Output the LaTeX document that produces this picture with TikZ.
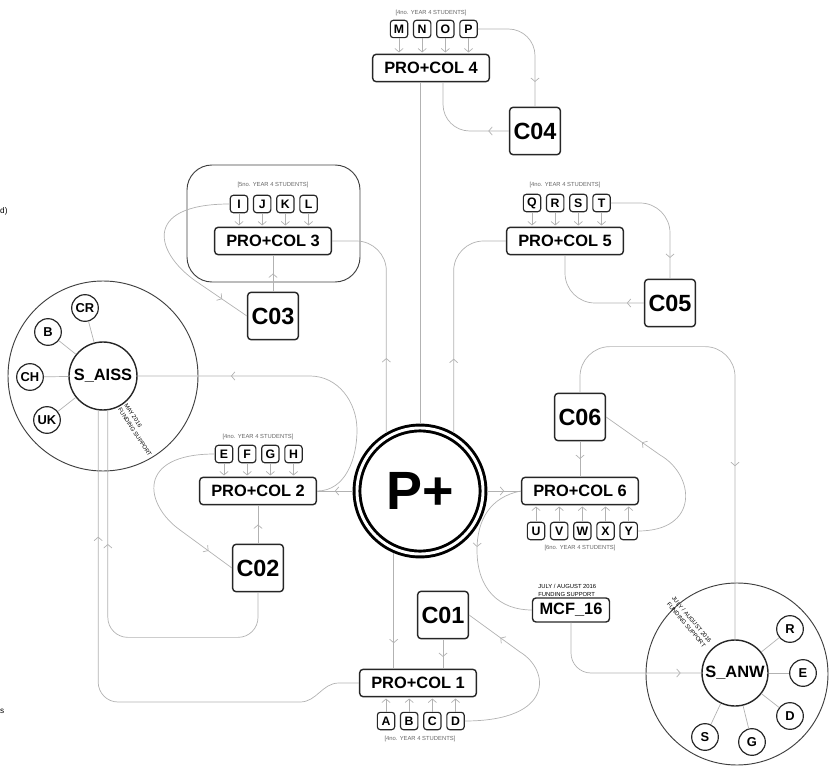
\documentclass[tikz,border=0pt]{standalone}
\usepackage{fontspec}
\setmainfont{Liberation Sans}
\usepackage{tikz}
\usetikzlibrary{arrows.meta, positioning, calc, decorations.markings}

\begin{document}
\begin{tikzpicture}[
    x=0.03cm, y=-0.03cm,
    link/.style={draw=black!30, line width=0.6pt},
    flow/.style={link, postaction={decorate}, decoration={markings, mark=at position #1 with {\arrow{Straight Barb[length=3pt,width=7pt]}}}},
    flow/.default=0.5,
    feed/.style={link, -{Straight Barb[length=3pt,width=7pt]}, shorten >=1pt},
    pcbox/.style={rectangle, rounded corners=3pt, draw=black!85, line width=1.2pt, minimum width=3.5cm, minimum height=0.82cm, font=\fontsize{14}{16}\selectfont\bfseries},
    cbox/.style={rectangle, rounded corners=3pt, draw=black!85, line width=1.2pt, minimum size=1.42cm, font=\fontsize{20}{22}\selectfont\bfseries},
    mcfbox/.style={rectangle, rounded corners=3pt, draw=black!85, line width=1.2pt, minimum width=2.31cm, minimum height=0.72cm, font=\fontsize{14}{16}\selectfont\bfseries},
    letter/.style={rectangle, rounded corners=2.5pt, draw=black!85, line width=1pt, minimum size=0.52cm, inner sep=0pt, font=\fontsize{10.5}{12}\selectfont\bfseries},
    note/.style={inner sep=1pt, text=black!60, font=\fontsize{5}{6}\selectfont},
    tinytext/.style={inner sep=1pt, align=left, font=\fontsize{5}{6.5}\selectfont},
    groupbox/.style={rectangle, rounded corners=0.75cm, draw=black!75, line width=0.8pt, minimum width=5.19cm, minimum height=3.51cm},
    hub/.style={circle, draw=black, line width=2.5pt, double, double distance=2.5pt, minimum size=3.78cm, outer sep=3.7pt, font=\fontsize{46}{50}\selectfont\bfseries},
    site/.style={circle, draw=black!85, line width=1.2pt, minimum size=2.04cm, inner sep=0pt, font=\fontsize{14}{16}\selectfont\bfseries},
    ring/.style={circle, draw=black!75, line width=0.8pt},
    member/.style={circle, draw=black!85, line width=1pt, minimum size=0.8cm, inner sep=0pt, font=\fontsize{11}{12}\selectfont\bfseries}
]
    \useasboundingbox (0,0) rectangle (837,767);

    \node[hub] (plus) at (420,491) {P+};

    \node[pcbox] (pc4) at (431,68) {PRO+COL 4};
    \node[letter] (m) at (399,29) {M};
    \node[letter, right=0.14cm of m] (n) {N};
    \node[letter, right=0.14cm of n] (o) {O};
    \node[letter, right=0.14cm of o] (p) {P};
    \node[note] (lbl4) at (431,13) {[4no. YEAR 4 STUDENTS]};
    \node[cbox] (c04) at (535,131) {C04};

    \node[groupbox] (grp3) at (273.5,223.5) {};
    \node[pcbox] (pc3) at (273,241) {PRO+COL 3};
    \node[letter] (i) at (239,204) {I};
    \node[letter, right=0.14cm of i] (j) {J};
    \node[letter, right=0.14cm of j] (k) {K};
    \node[letter, right=0.14cm of k] (l) {L};
    \node[note] (lbl3) at (273,185) {[5no. YEAR 4 STUDENTS]};
    \node[cbox] (c03) at (273,316) {C03};

    \node[pcbox] (pc5) at (565,241) {PRO+COL 5};
    \node[letter] (q) at (532,203) {Q};
    \node[letter, right=0.14cm of q] (r) {R};
    \node[letter, right=0.14cm of r] (s) {S};
    \node[letter, right=0.14cm of s] (t) {T};
    \node[note] (lbl5) at (565,185) {[4no. YEAR 4 STUDENTS]};
    \node[cbox] (c05) at (670,303) {C05};

    \node[pcbox] (pc2) at (258,491) {PRO+COL 2};
    \node[letter] (e) at (224,454) {E};
    \node[letter, right=0.14cm of e] (f) {F};
    \node[letter, right=0.14cm of f] (g) {G};
    \node[letter, right=0.14cm of g] (h) {H};
    \node[note] (lbl2) at (258,437) {[4no. YEAR 4 STUDENTS]};
    \node[cbox] (c02) at (258,568) {C02};

    \node[pcbox] (pc6) at (580,491) {PRO+COL 6};
    \node[letter] (u) at (536,531) {U};
    \node[letter, right=0.14cm of u] (v) {V};
    \node[letter, right=0.14cm of v] (w) {W};
    \node[letter, right=0.14cm of w] (x) {X};
    \node[letter, right=0.14cm of x] (y) {Y};
    \node[note] (lbl6) at (580,548) {[6no. YEAR 4 STUDENTS]};
    \node[cbox] (c06) at (580,417) {C06};

    \node[pcbox] (pc1) at (418,683) {PRO+COL 1};
    \node[letter] (a) at (386,721) {A};
    \node[letter, right=0.14cm of a] (b) {B};
    \node[letter, right=0.14cm of b] (c) {C};
    \node[letter, right=0.14cm of c] (d) {D};
    \node[note] (lbl1) at (420,739) {[4no. YEAR 4 STUDENTS]};
    \node[cbox] (c01) at (443,615) {C01};

    \node[mcfbox] (mcf) at (571,610) {MCF\_16};
    \node[tinytext, anchor=south west] (mcflbl) at (537,598) {JULY / AUGUST 2016\\FUNDING SUPPORT};

    \node[ring, minimum size=5.7cm] (saring) at (103,376) {};
    \node[site] (sa) at (103,376) {S\_AISS};
    \node[member] (acr) at (85,308) {CR};
    \node[member] (ab) at (48,332) {B};
    \node[member] (ach) at (30,377) {CH};
    \node[member] (auk) at (47,420) {UK};
    \node[tinytext, anchor=west, rotate=-57] (saflbl) at (sa.-57) {MAY 2016\\FUNDING SUPPORT};

    \node[ring, minimum size=5.46cm] (swring) at (737,674) {};
    \node[site, minimum size=1.98cm] (sw) at (735,673) {S\_ANW};
    \node[member] (wr) at (790,629) {R};
    \node[member] (we) at (803,673) {E};
    \node[member] (wd) at (790,716) {D};
    \node[member] (wg) at (752,742) {G};
    \node[member] (ws) at (705,737) {S};
    \node[tinytext, anchor=east, align=right, rotate=-50] (swflbl) at ($(sw.130)+(-5,-2)$) {JULY / AUGUST 2016\\FUNDING SUPPORT};

    \node[anchor=west, inner sep=0pt, font=\fontsize{7}{8}\selectfont] (cutd) at (0,211) {d)};
    \node[anchor=west, inner sep=0pt, font=\fontsize{7}{8}\selectfont] (cuts) at (0,711) {s};

    \draw[link] (plus.north) -- (plus.north |- pc4.south);
    \draw[flow=0.2, rounded corners=0.8cm] (c04.west) -| ($(pc4.south)+(12,0)$);
    \draw[flow=0.8, rounded corners=0.8cm] (p.east) -| (c04.north);
    \draw[feed] (m.south) -- (m.south |- pc4.north);
    \draw[feed] (n.south) -- (n.south |- pc4.north);
    \draw[feed] (o.south) -- (o.south |- pc4.north);
    \draw[feed] (p.south) -- (p.south |- pc4.north);

    \draw[flow] (c03.north) -- (pc3.south);
    \draw[flow=0.85] (i.west) .. controls (140,204) and (155,255) .. (200,284) -- (c03.west);
    \draw[flow=0.32, rounded corners=0.9cm] (plus.120) |- (pc3.east);
    \draw[feed] (i.south) -- (i.south |- pc3.north);
    \draw[feed] (j.south) -- (j.south |- pc3.north);
    \draw[feed] (k.south) -- (k.south |- pc3.north);
    \draw[feed] (l.south) -- (l.south |- pc3.north);

    \draw[flow=0.32, rounded corners=0.9cm] (plus.60) |- (pc5.west);
    \draw[flow=0.15, rounded corners=0.9cm] (c05.west) -| (pc5.south);
    \draw[flow=0.83, rounded corners=0.9cm] (t.east) -| (c05.north);
    \draw[feed] (q.south) -- (q.south |- pc5.north);
    \draw[feed] (r.south) -- (r.south |- pc5.north);
    \draw[feed] (s.south) -- (s.south |- pc5.north);
    \draw[feed] (t.south) -- (t.south |- pc5.north);

    \draw[flow] (plus.west) -- (pc2.east);
    \draw[flow=0.72] (pc2.east) to[out=0, in=270] (357,430) to[out=90, in=0] (310,376) -- (sa.east);
    \draw[flow] (c02.north) -- (pc2.south);
    \draw[flow=0.85] (e.west) .. controls (135,454) and (145,505) .. (180,530) -- (c02.west);
    \draw[flow=0.67, rounded corners=0.6cm] (c02.south) -- ++(0,45) -| (sa.278);
    \draw[flow=0.77] (pc1.west) -- ++(-20,0) to[out=180, in=0] (300,702) -- (118,702) to[out=180, in=270] (sa.262 |- 682,682) -- (sa.262);
    \draw[feed] (e.south) -- (e.south |- pc2.north);
    \draw[feed] (f.south) -- (f.south |- pc2.north);
    \draw[feed] (g.south) -- (g.south |- pc2.north);
    \draw[feed] (h.south) -- (h.south |- pc2.north);

    \draw[flow] (plus.east) -- (pc6.west);
    \draw[flow] (c06.south) -- (pc6.north);
    \draw[flow=0.76] (y.east) .. controls (700,531) and (695,475) .. (660,455) -- (c06.east);
    \draw[flow=0.63, rounded corners=0.9cm] (c06.north) -- ++(0,-46) -| (sw.north);
    \draw[flow=0.45] (pc6.west) .. controls (490,497) and (477,520) .. (477,550) .. controls (477,590) and (500,610) .. (mcf.west);
    \draw[flow=0.88, rounded corners=0.6cm] (mcf.south) |- (sw.west);
    \draw[feed] (u.north) -- (u.north |- pc6.south);
    \draw[feed] (v.north) -- (v.north |- pc6.south);
    \draw[feed] (w.north) -- (w.north |- pc6.south);
    \draw[feed] (x.north) -- (x.north |- pc6.south);
    \draw[feed] (y.north) -- (y.north |- pc6.south);

    \draw[flow=0.78] (plus.247) -- (plus.247 |- pc1.north);
    \draw[flow=0.6] (c01.south) -- (c01.south |- pc1.north);
    \draw[flow=0.8] (d.east) .. controls (555,721) and (550,670) .. (520,652) -- (c01.east);
    \draw[feed] (a.north) -- (a.north |- pc1.south);
    \draw[feed] (b.north) -- (b.north |- pc1.south);
    \draw[feed] (c.north) -- (c.north |- pc1.south);
    \draw[feed] (d.north) -- (d.north |- pc1.south);

    \draw[link] (acr) -- (sa);
    \draw[link] (ab) -- (sa);
    \draw[link] (ach) -- (sa);
    \draw[link] (auk) -- (sa);
    \draw[link] (wr) -- (sw);
    \draw[link] (we) -- (sw);
    \draw[link] (wd) -- (sw);
    \draw[link] (wg) -- (sw);
    \draw[link] (ws) -- (sw);
\end{tikzpicture}
\end{document}
